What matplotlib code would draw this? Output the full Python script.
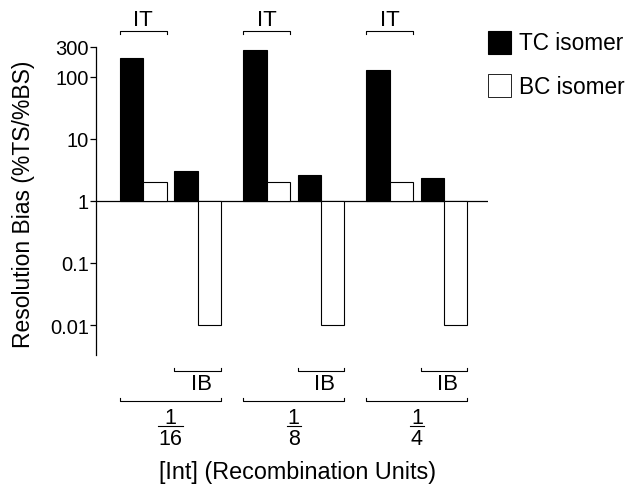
import matplotlib.pyplot as plt
import matplotlib.transforms as mtransforms
import numpy as np

plt.rcParams['font.family'] = ['Liberation Sans', 'DejaVu Sans']

groups = ['16', '8', '4']          # denominators of [Int]
it_tc = [200, 270, 130]
it_bc = [2, 2, 2]
ib_tc = [3.0, 2.6, 2.3]
ib_bc = [0.01, 0.01, 0.01]
yticks = [300, 100, 10, 1, 0.1, 0.01]
ytick_labels = ['300', '100', '10', '1', '0.1', '0.01']

W, H = 638, 485
fig = plt.figure(figsize=(W / 100, H / 100), dpi=100)
# axes placed by pixel box: left 96, right 488, top 48, bottom 356
ax = fig.add_axes([96 / W, 1 - 356 / H, (488 - 96) / W, (356 - 48) / H])

ax.set_yscale('log')
ax.set_ylim(0.0033, 300)
ax.set_xlim(0, 16.8)

w = 1.0
start = np.array([1.03, 6.31, 11.59])
offs = [0, 1, 2.33, 3.33]
series = [it_tc, it_bc, ib_tc, ib_bc]
colors = ['black', 'white', 'black', 'white']

for k in range(4):
    vals = np.array(series[k], dtype=float)
    ax.bar(start + offs[k], vals - 1, bottom=1, width=w, align='edge',
           color=colors[k], edgecolor='black', linewidth=0.8, zorder=3)

ax.axhline(1, color='black', linewidth=0.9, zorder=2)

for s in ['top', 'right', 'bottom']:
    ax.spines[s].set_visible(False)
ax.spines['left'].set_linewidth(0.9)
ax.set_xticks([])
ax.set_yticks(yticks)
ax.set_yticklabels(ytick_labels)
ax.minorticks_off()
ax.tick_params(axis='y', labelsize=14.5, length=4, width=0.9, pad=1)

tr = mtransforms.blended_transform_factory(ax.transData, fig.transFigure)
fy = lambda py: 1 - py / H
lw = 0.8
fs = 16

for i, g in enumerate(groups):
    x0 = start[i]
    # IT bracket above
    ax.plot([x0, x0, x0 + 2, x0 + 2], [fy(35), fy(32), fy(32), fy(35)],
            color='black', lw=lw, transform=tr, clip_on=False)
    ax.text(x0 + 1, fy(21), 'IT', ha='center', va='center', fontsize=fs,
            transform=tr)
    # IB bracket below
    xb = x0 + 2.33
    ax.plot([xb, xb, xb + 2, xb + 2], [fy(369), fy(372), fy(372), fy(369)],
            color='black', lw=lw, transform=tr, clip_on=False)
    ax.text(xb + 1.15, fy(385), 'IB', ha='center', va='center', fontsize=fs,
            transform=tr)
    # group bracket
    xe = x0 + 4.33
    ax.plot([x0, x0, xe, xe], [fy(399), fy(402), fy(402), fy(399)],
            color='black', lw=lw, transform=tr, clip_on=False)
    xc = (x0 + xe) / 2
    ax.text(xc, fy(418), '1', ha='center', va='center', fontsize=15.5,
            transform=tr)
    hw = 0.52 if len(g) > 1 else 0.3
    ax.plot([xc - hw, xc + hw], [fy(427), fy(427)], color='black', lw=lw,
            transform=tr, clip_on=False)
    ax.text(xc, fy(440), g, ha='center', va='center', fontsize=15.5,
            transform=tr)

fig.text(298 / W, fy(473), '[Int] (Recombination Units)', ha='center',
         va='center', fontsize=16.8)
fig.text(24 / W, fy(204), 'Resolution Bias (%TS/%BS)', ha='center',
         va='center', rotation=90, fontsize=16.5)

# legend
fig.patches.append(plt.Rectangle((488 / W, fy(55)), 23 / W, 23 / H,
                                 facecolor='black', edgecolor='black',
                                 lw=0.8, transform=fig.transFigure))
fig.patches.append(plt.Rectangle((488 / W, fy(98)), 23 / W, 23 / H,
                                 facecolor='white', edgecolor='black',
                                 lw=0.6, transform=fig.transFigure))
fig.text(519 / W, fy(44), 'TC isomer', ha='left', va='center', fontsize=16.3)
fig.text(519 / W, fy(87), 'BC isomer', ha='left', va='center', fontsize=16.3)

fig.savefig('out.png', dpi=100)
